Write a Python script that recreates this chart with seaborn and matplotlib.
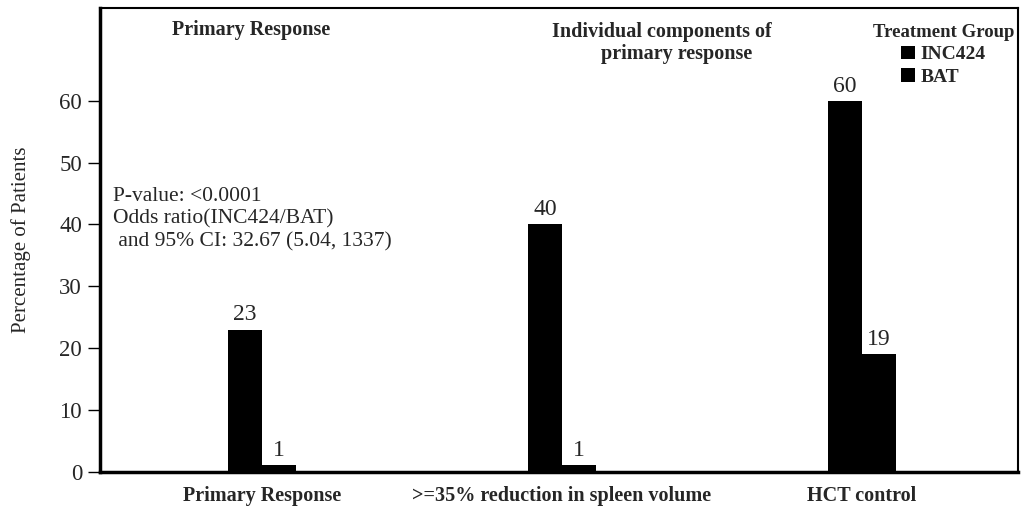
import matplotlib
matplotlib.use('Agg')
import matplotlib.pyplot as plt
import seaborn as sns
import pandas as pd

categories = ['Primary Response', '>=35% reduction in spleen volume', 'HCT control']
groups = ['INC424', 'BAT']
inc424 = [23, 40, 60]
bat = [1, 1, 19]

df = pd.DataFrame({
    'Category': categories * 2,
    'Group': [groups[0]] * 3 + [groups[1]] * 3,
    'Percent': inc424 + bat,
})

sns.set_style('white')
plt.rcParams['font.family'] = ['Liberation Serif', 'DejaVu Serif']

fig = plt.figure(figsize=(10.21, 5.11), dpi=100)
ax = fig.add_axes([0.098, 0.077, 0.899, 0.907])

sns.barplot(data=df, x='Category', y='Percent', hue='Group', order=categories,
            hue_order=groups, palette=['black', 'black'], width=0.225,
            edgecolor='black', linewidth=0, ax=ax)

for c in ax.containers:
    ax.bar_label(c, fmt='%d', fontsize=17, padding=3)

ax.set_xlim(-0.54, 2.52)
ax.set_ylim(0, 75)
ax.set_yticks([0, 10, 20, 30, 40, 50, 60])
ax.tick_params(axis='y', length=9, width=1, labelsize=16.5, pad=4, left=True, color='black')
ax.tick_params(axis='x', length=0, labelsize=14.5, pad=10)
for lab in ax.get_xticklabels():
    lab.set_fontweight('bold')
ax.set_xlabel('')
ax.set_ylabel('Percentage of Patients', fontsize=15, labelpad=20)

for s in ['left', 'bottom']:
    ax.spines[s].set_linewidth(2.5)
for s in ['top', 'right']:
    ax.spines[s].set_linewidth(1.5)
for s in ax.spines.values():
    s.set_color('black')

ax.text(0.165, 0.975, 'Primary Response', transform=ax.transAxes,
        ha='center', va='top', fontsize=14.5, fontweight='bold')
ax.text(0.612, 0.97, 'Individual components of\n      primary response',
        transform=ax.transAxes, ha='center', va='top', fontsize=14.5,
        fontweight='bold', linespacing=1.1)
ax.text(0.014, 0.615, 'P-value: <0.0001\nOdds ratio(INC424/BAT)\n and 95% CI: 32.67 (5.04, 1337)',
        transform=ax.transAxes, ha='left', va='top', fontsize=15.5, linespacing=1.25)

leg = ax.legend(title='Treatment Group', loc='upper right', bbox_to_anchor=(1.0, 0.975),
                frameon=False, fontsize=14, title_fontsize=13.5, handlelength=0.7,
                handleheight=0.7, handletextpad=0.3, borderaxespad=0.0,
                labelspacing=0.25, borderpad=0.2)
for t in leg.get_texts():
    t.set_fontweight('bold')
leg.get_title().set_fontweight('bold')

fig.savefig('out.png', dpi=100)
